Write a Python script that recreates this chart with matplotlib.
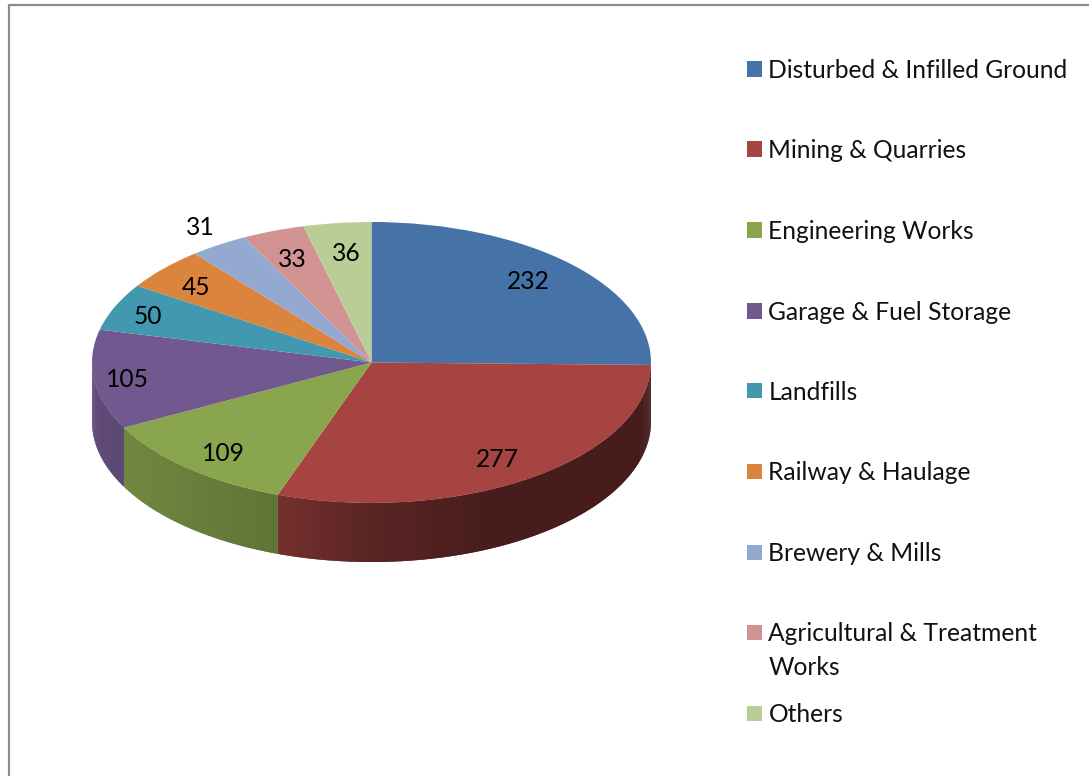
import numpy as np
import matplotlib
matplotlib.use('Agg')
import matplotlib.pyplot as plt
from matplotlib.collections import PolyCollection
from matplotlib.patches import Rectangle

plt.rcParams['font.family'] = ['Lato', 'DejaVu Sans']

categories = ['Disturbed & Infilled Ground', 'Mining & Quarries', 'Engineering Works',
              'Garage & Fuel Storage', 'Landfills', 'Railway & Haulage', 'Brewery & Mills',
              'Agricultural & Treatment\nWorks', 'Others']
values = [232, 277, 109, 105, 50, 45, 31, 33, 36]
colors = ['#4572a7', '#a64442', '#89a54e', '#71588f', '#4198af',
          '#db843d', '#93a9cf', '#d19392', '#b9cd96']

# distance of each value label from the centre, as a share of the radius
label_radius = [0.81, 0.81, 0.825, 0.885, 0.867, 0.83, 1.15, 0.80, 0.79]
# small hand nudges for those labels, in pixels (x right, y down)
label_nudge = [(-5, -1), (-3, 3), (3, 3), (1, 2), (-1, 2), (-3, 3), (5, 0), (-1, 2), (2, 1)]

W, H = 1089, 776
CX, CY, RX, RY = 371.5, 362.5, 279.5, 140.5
DEPTH = 59 / RY
FS = 17.7

fig = plt.figure(figsize=(W / 100, H / 100), dpi=100)
ax = fig.add_axes([0, 0, 1, 1])

# top face
ax.pie(values, colors=colors, startangle=90, counterclock=False, radius=1,
       wedgeprops={'linewidth': 0})

ax.set_aspect('auto')
ax.set_xlim(-CX / RX, (W - CX) / RX)
ax.set_ylim((CY - H) / RY, CY / RY)
ax.set_axis_off()

# side wall, only the part facing the viewer
edges = 90 - np.concatenate([[0], np.cumsum(values)]) / sum(values) * 360
polys, poly_cols = [], []
for i, c in enumerate(colors):
    # wrap to the lower half, 180..360 degrees
    a1, a0 = edges[i] % 360, edges[i + 1] % 360
    if edges[i] > 0 and edges[i + 1] < 0:
        a0, a1 = 360 + edges[i + 1], 360
    elif a1 < a0:
        a1 += 360
    a0, a1 = max(a0, 180), min(a1, 360)
    if a1 <= a0:
        continue
    th = np.linspace(a0, a1, max(int((a1 - a0) * 2), 2))
    for j in range(len(th) - 1):
        # each strip runs on under the next one so no seams show
        t = np.radians(np.linspace(th[j], th[min(j + 2, len(th) - 1)], 4))
        x, y = np.cos(t), np.sin(t)
        top = list(zip(x, y))
        bottom = list(zip(x[::-1], y[::-1] - DEPTH))
        polys.append(top + bottom)
        shade = np.interp(np.cos(np.radians(th[j])), [-1, -0.88, -0.34, 0.0, 0.42, 1.0],
                          [0.84, 0.82, 0.70, 0.54, 0.42, 0.42])
        poly_cols.append(np.array(matplotlib.colors.to_rgb(c)) * shade)
ax.add_collection(PolyCollection(polys, facecolors=poly_cols, edgecolors='none',
                                 linewidths=0, zorder=0.5))

# value labels
mids = (edges[:-1] + edges[1:]) / 2
for v, m, r, (dx, dy) in zip(values, mids, label_radius, label_nudge):
    ax.annotate(str(v), (r * np.cos(np.radians(m)), r * np.sin(np.radians(m))),
                xytext=(dx * 0.72, -dy * 0.72), textcoords='offset points',
                ha='center', va='center', fontsize=FS, color='black', zorder=5)

# legend, drawn by hand since the wrapped entry breaks the even spacing
legend_y = [69, 149, 230, 311, 391, 471, 552, 632, 713]
for name, c, y in zip(categories, colors, legend_y):
    fig.add_artist(Rectangle((747 / W, 1 - (y + 7.5) / H), 15 / W, 15 / H,
                             transform=fig.transFigure, facecolor=c, edgecolor='none'))
    fig.text(768.5 / W, 1 - (y - 10) / H, name, ha='left', va='top', fontsize=FS,
             color='#111111', linespacing=1.58)

# page frame, left and top only
fig.add_artist(plt.Line2D([8.5 / W, 8.5 / W, 1], [0, 1 - 4.5 / H, 1 - 4.5 / H],
                          transform=fig.transFigure, color='#8c8c8c', lw=1.6))

fig.savefig('out.png', dpi=100)
